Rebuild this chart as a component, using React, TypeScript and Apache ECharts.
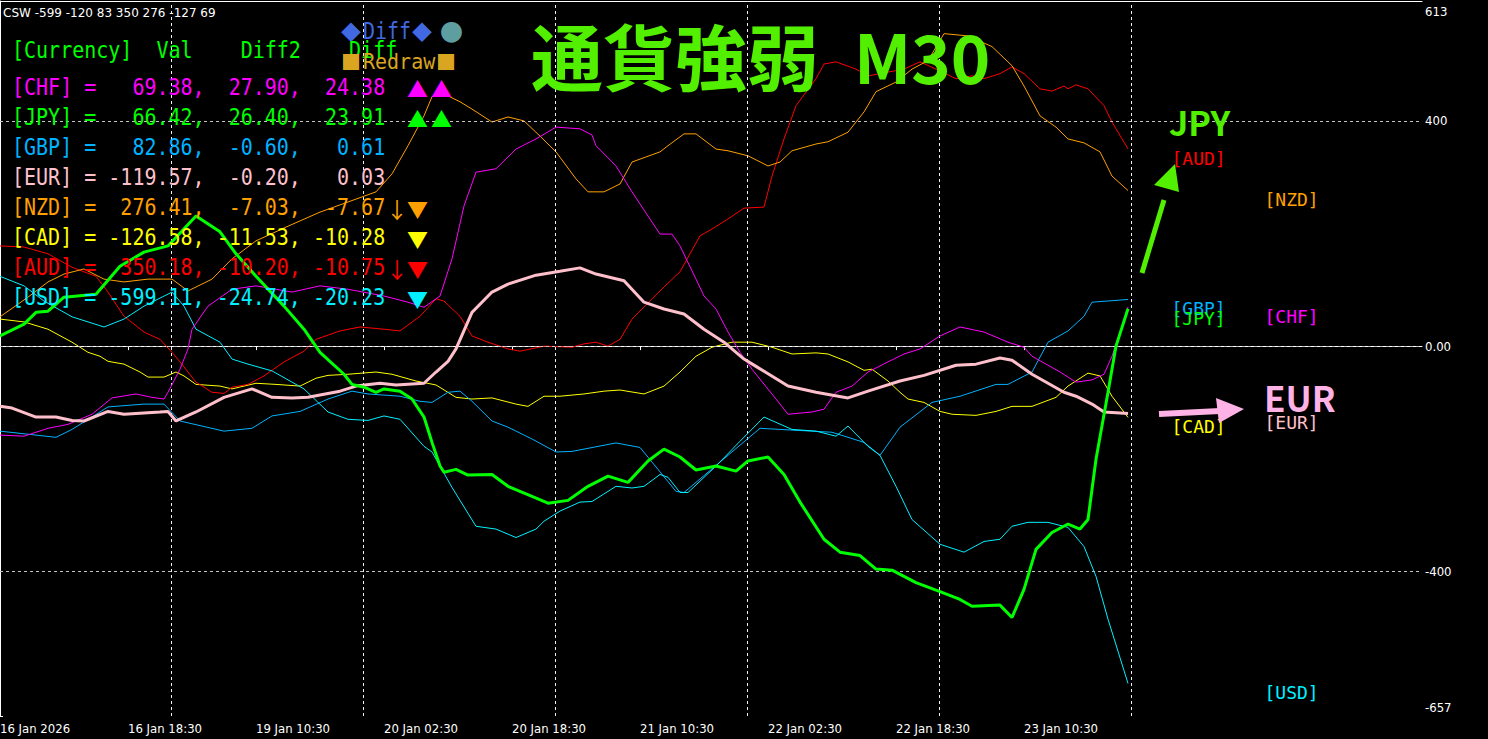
import React, { useEffect, useRef } from "react";
import * as echarts from "echarts";

// ---------- data ----------
const currencies = ["CHF", "JPY", "GBP", "EUR", "NZD", "CAD", "AUD", "USD"];
const currentVals = [69.38, 66.42, 82.86, -119.57, 276.41, -126.58, 350.18, -599.11];
const diff2Vals = [27.9, 26.4, -0.6, -0.2, -7.03, -11.53, -10.2, -24.74];
const diffVals = [24.38, 23.91, 0.61, 0.03, -7.67, -10.28, -10.75, -20.23];
const fallArrows = ["", "", "", "", "↓", "", "↓", ""];
const trendMarks = ["▲▲", "▲▲", "", "", "▼", "▼", "▼", "▼"];
const cswOrder = ["USD", "EUR", "GBP", "AUD", "NZD", "CAD", "CHF"];

const timeTickBars = [0, 32, 64, 96, 128, 160, 192, 224, 256];
const timeTickLabels = [
  "16 Jan 2026", "16 Jan 18:30", "19 Jan 10:30", "20 Jan 02:30", "20 Jan 18:30",
  "21 Jan 10:30", "22 Jan 02:30", "22 Jan 18:30", "23 Jan 10:30",
];
const yTickValues = [-657, -400, 0, 400, 613];
const gridLineBars = [42.75, 90.75, 138.75, 186.75, 234.75, 282.75];
const gridLineValues = [400, 0, -400];

// [bar index, strength]
const jpyLine = [[0,18],[6,39],[9,60],[12,62],[16,87],[24,92],[30,142],[36,167],[42,178],[49,231],[55,203],[59,164],[64,124],[71,71],[76,30],[80,-11],[86,-50],[88,-68],[91,-73],[94,-82],[96,-76],[100,-80],[103,-94],[106,-126],[108,-171],[110,-213],[111,-224],[114,-219],[117,-229],[123,-228],[127,-249],[133,-267],[137,-279],[142,-274],[147,-249],[152,-231],[157,-242],[162,-204],[166,-183],[170,-197],[174,-220],[179,-213],[184,-222],[187,-204],[192,-197],[196,-228],[200,-277],[206,-343],[210,-366],[215,-372],[219,-396],[223,-398],[229,-420],[235,-436],[240,-450],[243,-462],[250,-460],[253,-482],[256,-432],[259,-361],[263,-331],[267,-316],[270,-325],[272,-308],[274,-201],[277,-82],[279,0],[282,66.42]];
const eurLine = [[0,-107],[3,-110],[9,-126],[14,-126],[18,-132],[21,-133],[27,-116],[31,-121],[40,-117],[42,-116],[44,-133],[49,-117],[56,-91],[63,-76],[68,-91],[73,-92],[77,-91],[85,-80],[89,-71],[95,-66],[99,-69],[106,-66],[109,-46],[112,-27],[114,-5],[118,60],[123,96],[127,110],[134,126],[140,133],[145,139],[149,128],[156,116],[161,78],[166,66],[171,57],[176,30],[181,7],[186,-23],[189,-36],[197,-71],[204,-82],[212,-92],[217,-80],[225,-62],[231,-52],[239,-34],[244,-32],[250,-21],[253,-25],[258,-50],[266,-82],[269,-89],[273,-103],[276,-117],[282,-119.57]];
const gbpLine = [[0,-151],[14,-162],[18,-148],[27,-108],[36,-103],[41,-103],[45,-133],[56,-151],[63,-146],[68,-124],[75,-116],[82,-94],[88,-80],[92,-85],[100,-89],[105,-98],[108,-100],[112,-82],[115,-80],[118,-98],[123,-133],[127,-144],[133,-165],[139,-188],[143,-187],[154,-172],[160,-180],[169,-258],[171,-260],[180,-206],[190,-146],[208,-153],[216,-171],[220,-194],[225,-144],[233,-100],[240,-89],[249,-68],[252,-68],[258,-46],[262,7],[267,27],[271,53],[273,78],[282,82.86]];
const usdLine = [[0,124],[6,107],[11,80],[18,52],[26,34],[31,48],[36,71],[43,96],[46,71],[49,30],[55,7],[58,-23],[62,-32],[68,-44],[76,-76],[82,-117],[87,-130],[92,-132],[96,-124],[100,-130],[106,-178],[108,-188],[113,-251],[119,-320],[124,-325],[129,-340],[134,-325],[136,-311],[140,-293],[145,-277],[148,-276],[154,-249],[158,-252],[161,-249],[165,-228],[167,-233],[170,-260],[172,-260],[179,-213],[185,-169],[191,-126],[198,-148],[204,-151],[209,-160],[212,-142],[217,-178],[220,-194],[224,-249],[228,-308],[235,-352],[241,-366],[246,-347],[250,-343],[253,-320],[257,-313],[262,-313],[267,-322],[271,-356],[274,-409],[277,-485],[282,-599.11]];
const chfLine = [[0,-158],[6,-160],[12,-146],[17,-139],[23,-121],[28,-92],[34,-85],[38,-91],[41,-94],[42,-82],[45,-41],[47,-5],[48,30],[52,71],[58,101],[64,107],[73,96],[80,107],[87,101],[96,89],[102,78],[106,69],[110,89],[113,155],[116,249],[119,309],[124,315],[129,350],[134,368],[139,389],[145,386],[148,375],[149,356],[154,320],[158,274],[162,231],[165,199],[168,199],[170,178],[174,119],[176,89],[179,66],[182,25],[185,-11],[188,-41],[194,-94],[197,-121],[203,-117],[206,-112],[209,-82],[213,-71],[217,-46],[222,-28],[226,-14],[230,-5],[235,18],[240,34],[246,25],[252,7],[256,-2],[258,-18],[265,-46],[269,-64],[273,-60],[276,-50],[278,-18],[280,25],[282,69.38]];
const nzdLine = [[0,52],[7,87],[12,114],[16,128],[21,137],[26,119],[31,114],[37,119],[43,119],[47,98],[53,119],[58,155],[64,187],[72,213],[80,238],[87,256],[94,274],[98,306],[102,356],[106,409],[108,443],[111,448],[115,434],[118,421],[123,398],[127,407],[131,400],[135,373],[139,345],[144,297],[147,274],[151,274],[155,288],[158,327],[165,345],[167,356],[171,377],[174,377],[179,350],[182,347],[187,338],[192,320],[195,327],[198,347],[204,359],[207,363],[212,380],[216,416],[219,452],[224,469],[228,492],[232,507],[236,555],[242,551],[248,532],[253,498],[256,462],[260,409],[264,389],[267,368],[271,361],[275,345],[278,302],[282,276.41]];
const audLine = [[0,178],[6,176],[12,164],[18,140],[24,124],[27,96],[31,53],[36,25],[40,12],[43,-11],[45,-28],[49,-64],[53,-82],[56,-84],[58,-73],[62,-68],[66,-53],[71,-28],[76,-9],[79,12],[85,27],[90,34],[96,30],[100,27],[105,53],[109,84],[111,80],[115,53],[118,18],[122,7],[127,-5],[130,-9],[136,0],[143,-2],[146,4],[149,7],[152,0],[155,12],[158,48],[163,84],[166,105],[170,132],[175,196],[178,208],[182,226],[186,245],[191,247],[193,302],[196,368],[199,427],[204,475],[206,501],[209,505],[214,492],[217,480],[220,484],[226,492],[230,505],[234,492],[239,475],[243,480],[246,475],[250,484],[253,496],[256,484],[260,457],[263,453],[266,462],[267,457],[269,464],[272,457],[276,427],[278,398],[282,350.18]];
const cadLine = [[0,48],[6,43],[12,30],[18,7],[22,-11],[25,-18],[27,-27],[31,-32],[35,-46],[37,-55],[41,-55],[44,-46],[46,-53],[49,-68],[55,-71],[58,-76],[64,-66],[69,-68],[75,-71],[79,-57],[82,-52],[87,-50],[94,-46],[98,-50],[104,-62],[109,-69],[114,-91],[118,-94],[123,-92],[129,-103],[132,-107],[136,-89],[140,-89],[146,-85],[151,-80],[155,-78],[161,-85],[166,-71],[170,-46],[174,-18],[178,-2],[183,7],[188,7],[193,-2],[198,-14],[204,-12],[207,-14],[212,-28],[216,-43],[218,-41],[222,-62],[225,-82],[227,-94],[231,-100],[235,-116],[238,-121],[244,-123],[249,-116],[253,-107],[258,-107],[264,-91],[267,-71],[272,-48],[275,-53],[278,-89],[282,-126.58]];

// ---------- style ----------
const colors: Record<string, string> = {
  CHF: "#FF00FF", JPY: "#00FF00", GBP: "#00B2FF", EUR: "#FFC0CB",
  NZD: "#FFA000", CAD: "#FFFF00", AUD: "#FF0000", USD: "#00F0FF",
};
const titleGreen = "#52F000";
const eurPink = "#FFB2E6";
const mono = '"DejaVu Sans Mono", monospace';
const cjk = '"Noto Sans CJK JP", sans-serif';
const sans = '"DejaVu Sans", sans-serif';
const axisFont = '"DejaVu Sans Condensed", "DejaVu Sans", sans-serif';
const xMaxBar = 355.5;
const labelColBars = [293, 316.25];

const lineDefs: [string, number[][], number][] = [
  ["CAD", cadLine, 1], ["AUD", audLine, 1], ["NZD", nzdLine, 1], ["GBP", gbpLine, 1],
  ["USD", usdLine, 1], ["CHF", chfLine, 1], ["EUR", eurLine, 3], ["JPY", jpyLine, 3],
];

function txt(text: string, x: number, y: number, fill: string, font: string, extra: any = {}) {
  return {
    type: "text", x, y, z: 100, silent: true, ...extra,
    style: { text, fill, font, align: "left", verticalAlign: "middle" },
  };
}

function buildOption() {
  const graphic: any[] = [];
  const valOf = (c: string) => currentVals[currencies.indexOf(c)];
  graphic.push(txt("CSW " + cswOrder.map((c) => Math.round(valOf(c))).join(" "), 3, 13, "#ffffff", `12px ${sans}`));
  // indicator buttons
  graphic.push(txt("◆", 341, 31, "#4169E1", `20px ${cjk}`));
  graphic.push(txt("Diff", 363, 31, "#4169E1", `20px ${mono}`, { scaleY: 1.12 }));
  graphic.push(txt("◆", 412, 31, "#4169E1", `20px ${cjk}`));
  graphic.push(txt("●", 440, 31, "#5F9EA0", `23px ${cjk}`));
  // table
  graphic.push(txt("[Currency]  Val    Diff2    Diff", 12, 50, "#00FF00", `20px ${mono}`, { scaleY: 1.15 }));
  graphic.push(txt("■", 341, 61, "#DAA520", `20px ${cjk}`));
  graphic.push(txt("Redraw", 363, 61, "#DAA520", `20px ${mono}`, { scaleY: 1.1 }));
  graphic.push(txt("■", 436, 61, "#DAA520", `20px ${cjk}`));
  currencies.forEach((c, i) => {
    const y = 87 + 30 * i;
    const row = `[${c}] = ${currentVals[i].toFixed(2).padStart(7)}, ${diff2Vals[i].toFixed(2).padStart(6)}, ${diffVals[i].toFixed(2).padStart(6)}`;
    graphic.push(txt(row, 12, y, colors[c], `20px ${mono}`, { scaleY: 1.15 }));
    if (fallArrows[i]) graphic.push(txt(fallArrows[i], 386, y + 1, colors[c], `22px ${cjk}`));
    trendMarks[i].split("").forEach((m, k) => {
      graphic.push(txt(m, 407 + 24 * k, y + 1, colors[c], `21px ${cjk}`));
    });
  });
  // title
  graphic.push(txt("通貨強弱", 531, 53, titleGreen, `bold 72px ${cjk}`));
  graphic.push(txt("M30", 854, 54, titleGreen, `bold 67px ${cjk}`));
  // annotations
  graphic.push(txt("JPY", 1169, 121, titleGreen, `bold 34px ${cjk}`));
  graphic.push({ type: "line", z: 100, silent: true, shape: { x1: 1142, y1: 273, x2: 1164, y2: 200 }, style: { stroke: titleGreen, lineWidth: 5 } });
  graphic.push({ type: "polygon", z: 100, silent: true, shape: { points: [[1175, 164], [1154, 185], [1179, 192]] }, style: { fill: titleGreen } });
  graphic.push(txt("EUR", 1264, 396, eurPink, `bold 35px ${cjk}`));
  graphic.push({ type: "line", z: 100, silent: true, shape: { x1: 1159, y1: 414, x2: 1220, y2: 411 }, style: { stroke: eurPink, lineWidth: 6 } });
  graphic.push({ type: "polygon", z: 100, silent: true, shape: { points: [[1244, 409], [1216, 398], [1219, 423]] }, style: { fill: eurPink } });

  const ranked = currencies.map((c, i) => ({ c, v: currentVals[i] })).sort((a, b) => b.v - a.v);

  const series: any[] = lineDefs.map(([c, data, w], idx) => ({
    type: "line",
    name: c,
    data,
    showSymbol: false,
    symbol: "none",
    silent: true,
    z: 2 + idx,
    lineStyle: { color: colors[c], width: w },
    itemStyle: { color: colors[c] },
    ...(idx === 0
      ? {
          markLine: {
            silent: true,
            symbol: ["none", "none"],
            label: { show: false },
            animation: false,
            data: [
              ...gridLineBars.map((b) => ({ xAxis: b, lineStyle: { color: "#f0f0f0", type: [3, 3], width: 1 } })),
              ...gridLineValues.map((v) => ({ yAxis: v, lineStyle: { color: "#c4c4c4", type: [3, 3], width: 1 } })),
            ],
          },
        }
      : {}),
  }));
  series.push({
    type: "scatter",
    name: "labels",
    silent: true,
    symbol: "rect",
    symbolSize: 1,
    itemStyle: { color: "rgba(0,0,0,0)", opacity: 0 },
    z: 20,
    data: ranked.map((o, k) => ({
      value: [labelColBars[k % 2], o.v],
      label: {
        show: true,
        formatter: `[${o.c}]`,
        color: colors[o.c],
        textBorderWidth: 0,
        opacity: 1,
        position: [0, 1],
        align: "left",
        verticalAlign: "top",
        fontFamily: mono,
        fontSize: 18,
      },
    })),
  });

  return {
    animation: false,
    backgroundColor: "#000000",
    grid: { left: 0, right: 66, top: 1, bottom: 23, containLabel: false, outerBoundsMode: "none" },
    xAxis: [
      {
        type: "value",
        min: 0,
        max: xMaxBar,
        position: "bottom",
        splitLine: { show: false },
        axisLine: { show: true, lineStyle: { color: "#ffffff", width: 1 } },
        axisTick: { show: true, customValues: timeTickBars.slice(1), length: 4, lineStyle: { color: "#ffffff" } },
        axisLabel: {
          customValues: timeTickBars,
          formatter: (v: number) => timeTickLabels[timeTickBars.indexOf(v)] ?? "",
          color: "#ffffff",
          fontFamily: axisFont,
          fontSize: 13,
          align: "left",
          margin: 6,
        },
      },
      {
        type: "value",
        min: 0,
        max: xMaxBar,
        position: "top",
        splitLine: { show: false },
        axisLine: { show: true, lineStyle: { color: "#ffffff", width: 1 } },
        axisTick: { show: false },
        axisLabel: { show: false },
      },
    ],
    yAxis: {
      type: "value",
      position: "right",
      min: yTickValues[0],
      max: yTickValues[yTickValues.length - 1],
      splitLine: { show: false },
      axisLine: { show: true, lineStyle: { color: "#ffffff", width: 1 } },
      axisTick: { show: true, customValues: yTickValues, length: 3, lineStyle: { color: "#ffffff" } },
      axisLabel: {
        customValues: yTickValues,
        color: "#ffffff",
        fontFamily: axisFont,
        fontSize: 13,
        margin: 3,
        formatter: (v: number) => {
          if (v === yTickValues[yTickValues.length - 1]) return `{t|${v}}`;
          if (v === yTickValues[0]) return `{b|${v}}`;
          if (v === 0) return "0.00";
          return String(v);
        },
        rich: {
          t: { padding: [20, 0, 0, 0], color: "#ffffff", fontFamily: axisFont, fontSize: 13 },
          b: { padding: [0, 0, 18, 0], color: "#ffffff", fontFamily: axisFont, fontSize: 13 },
        },
      },
    },
    series,
    graphic: { elements: graphic },
  };
}

export default function App() {
  const ref = useRef<HTMLDivElement>(null);
  useEffect(() => {
    const chart = echarts.init(ref.current!, null, { renderer: "svg" });
    chart.setOption(buildOption() as any);
    return () => chart.dispose();
  }, []);
  return (
    <div
      ref={ref}
      style={{ position: "fixed", left: 0, top: 0, width: 1488, height: 739, background: "#000" }}
    />
  );
}
